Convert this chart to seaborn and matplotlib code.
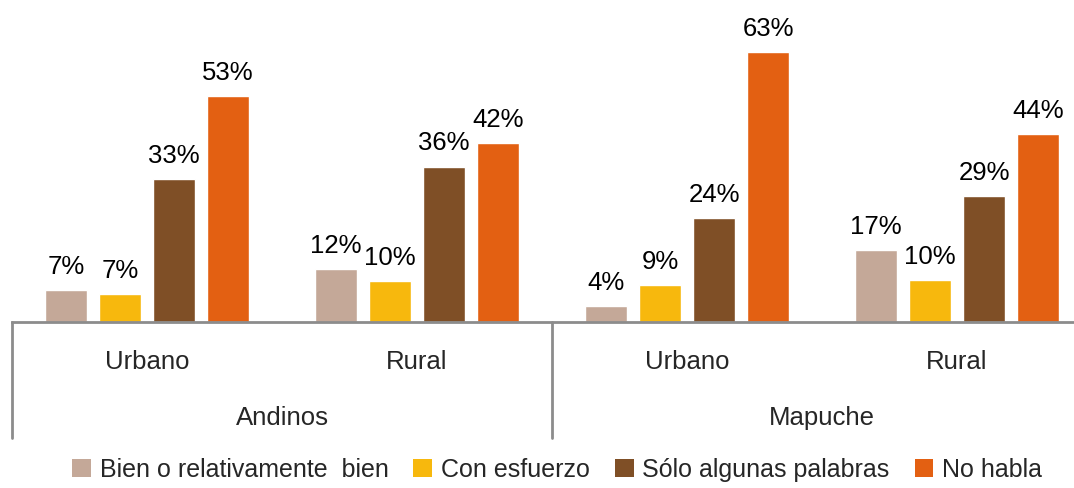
import pandas as pd
import numpy as np
import matplotlib.pyplot as plt
import seaborn as sns
from matplotlib.patches import Patch

# datos
pueblos = ['Andinos', 'Mapuche']
zonas = ['Urbano', 'Rural']
respuestas = ['Bien o relativamente  bien', 'Con esfuerzo', 'Sólo algunas palabras', 'No habla']
colores = ['#C4A898', '#F7B80D', '#7F4F26', '#E36012']

# valores (%) por grupo: Andinos-Urbano, Andinos-Rural, Mapuche-Urbano, Mapuche-Rural
bien = [7.4, 12.4, 3.7, 16.9]
esfuerzo = [6.6, 9.6, 8.7, 9.8]
algunas = [33.4, 36.4, 24.3, 29.4]
no_habla = [52.9, 41.9, 63.2, 44.0]

grupos = [f'{p}-{z}' for p in pueblos for z in zonas]
df = pd.DataFrame({
    'grupo': np.repeat(grupos, 4),
    'respuesta': respuestas * 4,
    'valor': np.ravel(np.column_stack([bien, esfuerzo, algunas, no_habla])),
})

sns.set_style('white')
plt.rcParams['font.family'] = ['Liberation Sans', 'DejaVu Sans']
FS = 18.5
gris = '#8C8C8C'

fig = plt.figure(figsize=(10.74, 4.88), dpi=100)
ax = fig.add_axes([12 / 1074, 166 / 488, 1080 / 1074, 299 / 488])

sns.barplot(data=df, x='grupo', y='valor', hue='respuesta', order=grupos,
            hue_order=respuestas, palette=colores, width=0.8, gap=0.22,
            saturation=1, ax=ax, legend=False)

for cont in ax.containers:
    etiquetas = [f'{b.get_height():.0f}%' for b in cont]
    ax.bar_label(cont, labels=etiquetas, padding=8, fontsize=FS, color='black')

ax.set_xlim(-0.5, 3.5)
ax.set_ylim(0, 70)
ax.set_xticks([])
ax.set_yticks([])
ax.set_xlabel('')
ax.set_ylabel('')
for lado in ['top', 'right', 'left']:
    ax.spines[lado].set_visible(False)
ax.spines['bottom'].set_color(gris)
ax.spines['bottom'].set_linewidth(2)

# etiquetas de categorías (dos niveles)
tr = ax.get_xaxis_transform()
for i, g in enumerate(grupos):
    ax.text(i, -40 / 299, g.split('-')[1], transform=tr, ha='center', va='center', fontsize=FS)
for j, p in enumerate(pueblos):
    ax.text(2 * j + 0.5, -96 / 299, p, transform=tr, ha='center', va='center', fontsize=FS)
for xl in [-0.5, 1.5, 3.5]:
    ax.plot([xl, xl], [0, -116 / 299], transform=tr, color=gris, lw=2, clip_on=False)

handles = [Patch(facecolor=c, edgecolor='none') for c in colores]
fig.legend(handles, respuestas, loc='center', bbox_to_anchor=(557 / 1074, 1 - 470 / 488),
           ncol=4, frameon=False, fontsize=18, handlelength=0.75, handleheight=0.75,
           handletextpad=0.35, columnspacing=1.0, borderpad=0)

fig.savefig('out.png', dpi=100)
